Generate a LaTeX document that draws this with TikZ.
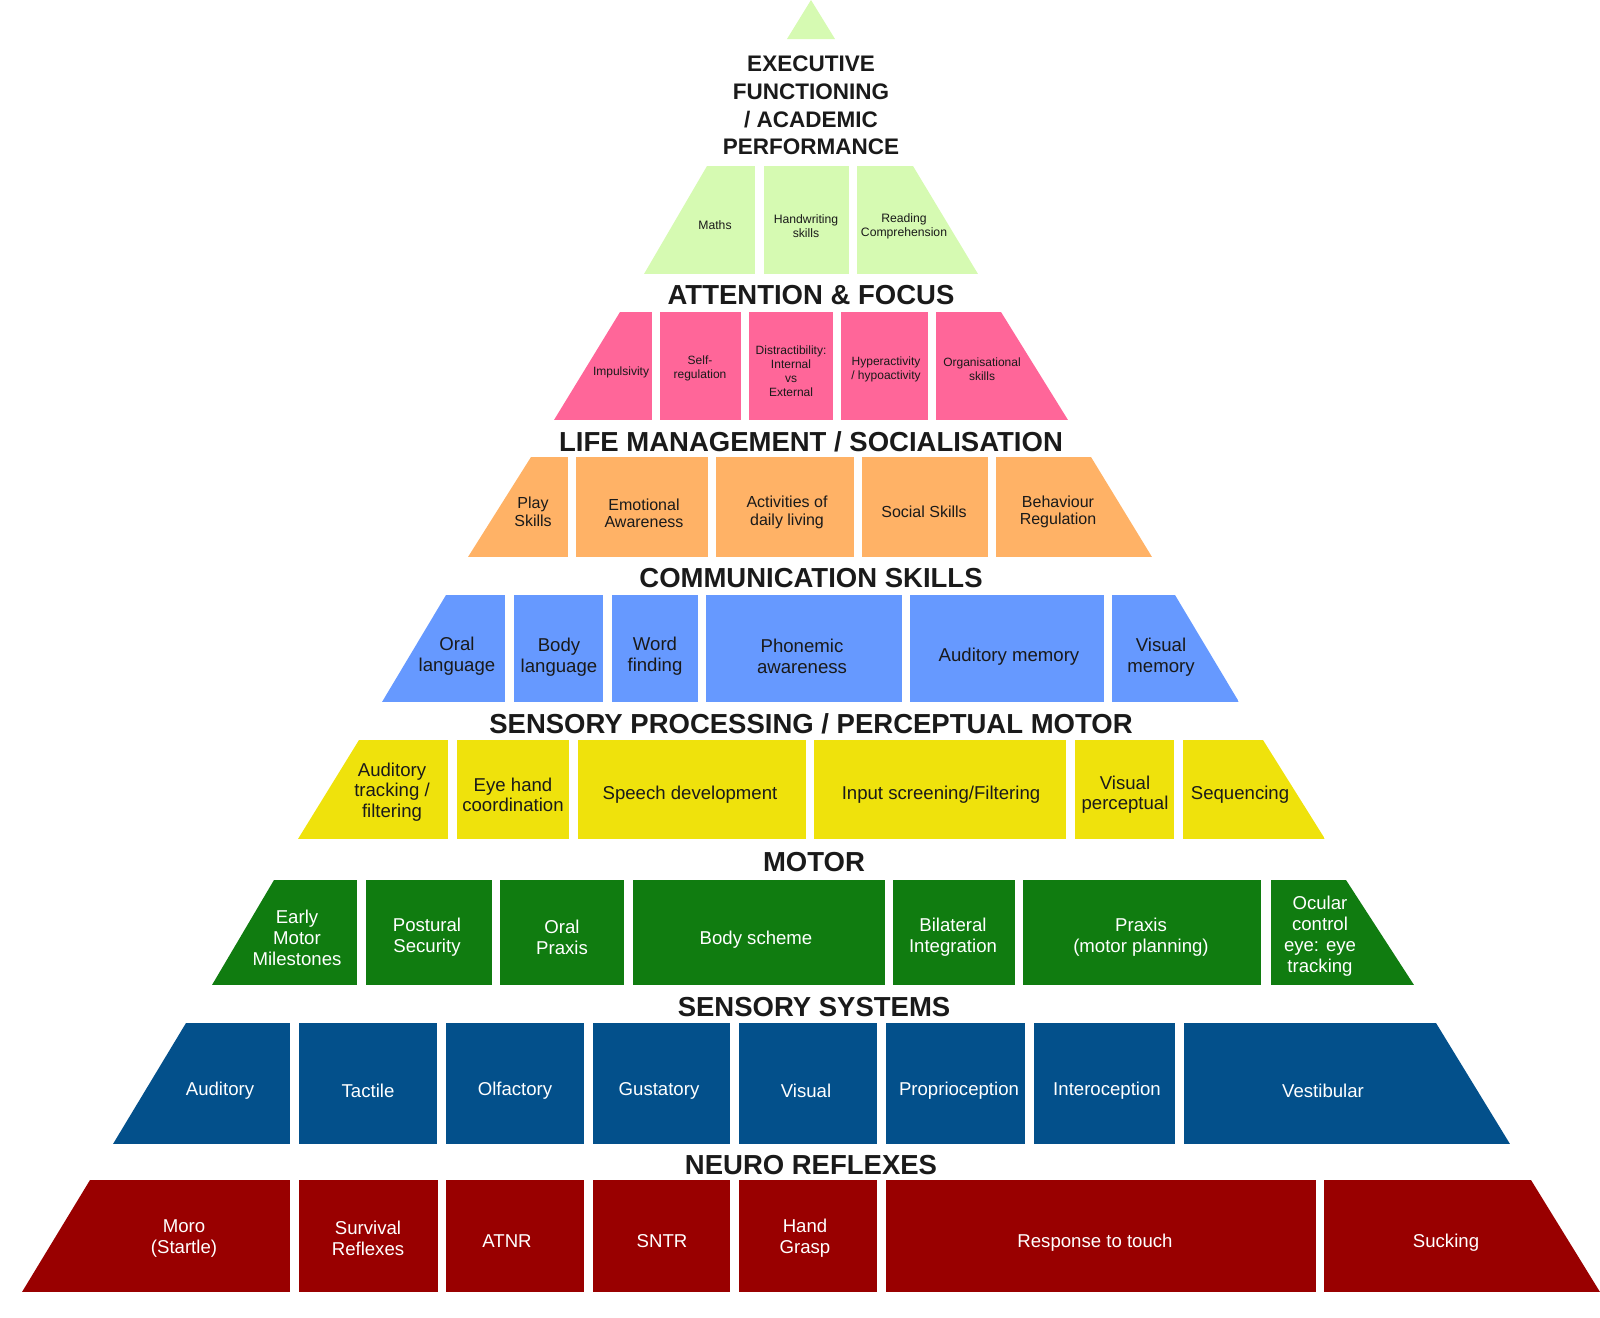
\documentclass[tikz,border=0pt]{standalone}
\usepackage{fontspec}
\setmainfont{Liberation Sans}
\usetikzlibrary{calc}

\definecolor{topgreen}{HTML}{D6FAB2}
\definecolor{attnpink}{HTML}{FF6699}
\definecolor{lifeorange}{HTML}{FFB266}
\definecolor{commblue}{HTML}{6699FF}
\definecolor{sensyellow}{HTML}{EFE20C}
\definecolor{motorgreen}{HTML}{107C10}
\definecolor{sysnavy}{HTML}{03508B}
\definecolor{reflexred}{HTML}{990000}
\definecolor{inkgrey}{HTML}{1A1A1A}

\tikzset{
  layertitle/.style={font=\bfseries\fontsize{27.5}{30}\selectfont, text=inkgrey, inner sep=0pt, yshift=-1pt},
  boxtext/.style={font=\fontsize{18.6}{21}\selectfont, align=center, inner sep=0pt, text=inkgrey, yshift=-2pt},
  boxtextwhite/.style={boxtext, text=white},
  boxtextmid/.style={font=\fontsize{16}{17.5}\selectfont, align=center, inner sep=0pt, text=inkgrey, yshift=-1.5pt},
  boxtextsmall/.style={font=\fontsize{12.2}{13.8}\selectfont, align=center, inner sep=0pt, text=inkgrey, yshift=-1pt}
}

\begin{document}
\begin{tikzpicture}[x=1pt, y=-1pt]
  \useasboundingbox (0,0) rectangle (1600,1317);

  % top
  \fill[topgreen] (787,39) -- (811,0) -- (835,39) -- cycle;
  \node[layertitle, font=\bfseries\fontsize{22.5}{27.7}\selectfont, align=center] (tExec) at (811,104.5)
    {EXECUTIVE\\FUNCTIONING\\/ ACADEMIC\\PERFORMANCE};

  \begin{scope}
    \clip (707,166) -- (913,166) -- (978,274) -- (644,274) -- cycle;
    \foreach \l/\r in {644/755, 764/849, 857/978}
      \fill[topgreen] (\l,166) rectangle (\r,274);
  \end{scope}
  \node[boxtextsmall] (maths) at (715,224) {Maths};
  \node[boxtextsmall] (handwriting) at (806,225.5) {Handwriting\\skills};
  \node[boxtextsmall] (reading) at (904,225.5) {Reading\\Comprehension};

  % attention
  \node[layertitle] (tAttention) at (811,294) {ATTENTION \& FOCUS};
  \begin{scope}
    \clip (620,312) -- (1001,312) -- (1068,420) -- (554,420) -- cycle;
    \foreach \l/\r in {554/652, 660/741, 749/833, 841/928, 936/1068}
      \fill[attnpink] (\l,312) rectangle (\r,420);
  \end{scope}
  \node[boxtextsmall, font=\fontsize{12}{14}\selectfont] (impulsivity) at (621,371) {Impulsivity};
  \node[boxtextsmall, font=\fontsize{12}{14}\selectfont] (selfreg) at (700,367.5) {Self-\\regulation};
  \node[boxtextsmall, font=\fontsize{12}{14}\selectfont] (distract) at (791,370) {Distractibility:\\Internal\\vs\\External};
  \node[boxtextsmall, font=\fontsize{12}{14}\selectfont] (hyper) at (886,368.5) {Hyperactivity\\/ hypoactivity};
  \node[boxtextsmall, font=\fontsize{12}{14}\selectfont] (organise) at (982,368.5) {Organisational\\skills};

  % life management
  \node[layertitle] (tLife) at (811,441) {LIFE MANAGEMENT / SOCIALISATION};
  \begin{scope}
    \clip (531,457) -- (1091,457) -- (1152,557) -- (468,557) -- cycle;
    \foreach \l/\r in {468/568, 576/708, 716/854, 862/988, 996/1152}
      \fill[lifeorange] (\l,457) rectangle (\r,557);
  \end{scope}
  \node[boxtextmid] (play) at (533,510.5) {Play\\Skills};
  \node[boxtextmid] (emotional) at (644,512) {Emotional\\Awareness};
  \node[boxtextmid] (adl) at (787,511) {Activities of\\daily living};
  \node[boxtextmid] (social) at (924,510) {Social Skills};
  \node[boxtextmid] (behaviour) at (1058,510.5) {Behaviour\\Regulation};

  % communication
  \node[layertitle] (tComm) at (811,577) {COMMUNICATION SKILLS};
  \begin{scope}
    \clip (446,595) -- (1175,595) -- (1239,702) -- (382,702) -- cycle;
    \foreach \l/\r in {382/505, 514/603, 612/698, 706/902, 910/1104, 1112/1239}
      \fill[commblue] (\l,595) rectangle (\r,702);
  \end{scope}
  \node[boxtext] (orallang) at (457,654) {Oral\\language};
  \node[boxtext] (bodylang) at (559,655) {Body\\language};
  \node[boxtext] (wordfind) at (655,654) {Word\\finding};
  \node[boxtext] (phonemic) at (802,654) {Phonemic\\awareness};
  \node[boxtext] (audmem) at (1009,655) {Auditory memory};
  \node[boxtext] (vismem) at (1161,655) {Visual\\memory};

  % sensory processing
  \node[layertitle] (tSensProc) at (811,723) {SENSORY PROCESSING / PERCEPTUAL MOTOR};
  \begin{scope}
    \clip (359,740) -- (1263,740) -- (1325,839) -- (298,839) -- cycle;
    \foreach \l/\r in {298/448, 457/569, 578/806, 814/1066, 1075/1174, 1183/1325}
      \fill[sensyellow] (\l,740) rectangle (\r,839);
  \end{scope}
  \node[boxtext, font=\fontsize{18.6}{20.5}\selectfont] (audtrack) at (392,790) {Auditory\\tracking /\\filtering};
  \node[boxtext, font=\fontsize{18.6}{20.5}\selectfont] (eyehand) at (513,793) {Eye hand\\coordination};
  \node[boxtext] (speech) at (690,793) {Speech development};
  \node[boxtext] (input) at (941,793) {Input screening/Filtering};
  \node[boxtext, font=\fontsize{18.6}{20.5}\selectfont] (visperc) at (1125,792.5) {Visual\\perceptual};
  \node[boxtext] (sequencing) at (1240,793) {Sequencing};

  % motor
  \node[layertitle] (tMotor) at (814,861) {MOTOR};
  \begin{scope}
    \clip (274,880) -- (1346,880) -- (1414,985) -- (212,985) -- cycle;
    \foreach \l/\r in {212/357, 366/492, 500/624, 633/885, 893/1015, 1023/1261, 1271/1414}
      \fill[motorgreen] (\l,880) rectangle (\r,985);
  \end{scope}
  \node[boxtextwhite] (early) at (297,936) {Early\\Motor\\Milestones};
  \node[boxtextwhite] (postural) at (427,935.5) {Postural\\Security};
  \node[boxtextwhite] (oralpraxis) at (562,935.5) {Oral\\Praxis};
  \node[boxtextwhite] (bodyscheme) at (756,938) {Body scheme};
  \node[boxtextwhite] (bilateral) at (953,935.5) {Bilateral\\Integration};
  \node[boxtextwhite] (praxis) at (1141,935.5) {Praxis\\(motor planning)};
  \node[boxtextwhite] (ocular) at (1320,934) {Ocular\\control\\eye: eye\\tracking};

  % sensory systems
  \node[layertitle] (tSensSys) at (814,1006) {SENSORY SYSTEMS};
  \begin{scope}
    \clip (186,1023) -- (1436,1023) -- (1510,1144) -- (113,1144) -- cycle;
    \foreach \l/\r in {113/290, 299/437, 446/584, 593/730, 739/877, 886/1025, 1034/1175, 1184/1510}
      \fill[sysnavy] (\l,1023) rectangle (\r,1144);
  \end{scope}
  \foreach \x/\name/\txt in {220/auditory/Auditory, 368/tactile/Tactile, 515/olfactory/Olfactory,
      659/gustatory/Gustatory, 806/visual/Visual, 959/proprio/Proprioception,
      1107/intero/Interoception, 1323/vestibular/Vestibular}
    \node[boxtextwhite] (\name) at (\x,1089) {\txt};

  % neuro reflexes
  \node[layertitle] (tReflex) at (811,1164) {NEURO REFLEXES};
  \begin{scope}
    \clip (90,1180) -- (1531,1180) -- (1600,1292) -- (22,1292) -- cycle;
    \foreach \l/\r in {22/290, 299/438, 446/584, 593/730, 739/877, 886/1316, 1324/1600}
      \fill[reflexred] (\l,1180) rectangle (\r,1292);
  \end{scope}
  \node[boxtextwhite] (moro) at (184,1237) {Moro\\(Startle)};
  \node[boxtextwhite] (survival) at (368,1236.5) {Survival\\Reflexes};
  \node[boxtextwhite] (atnr) at (507,1239) {ATNR};
  \node[boxtextwhite] (sntr) at (662,1239) {SNTR};
  \node[boxtextwhite] (grasp) at (805,1236.5) {Hand\\Grasp};
  \node[boxtextwhite] (touch) at (1095,1241) {Response to touch};
  \node[boxtextwhite] (sucking) at (1446,1241) {Sucking};
\end{tikzpicture}
\end{document}
